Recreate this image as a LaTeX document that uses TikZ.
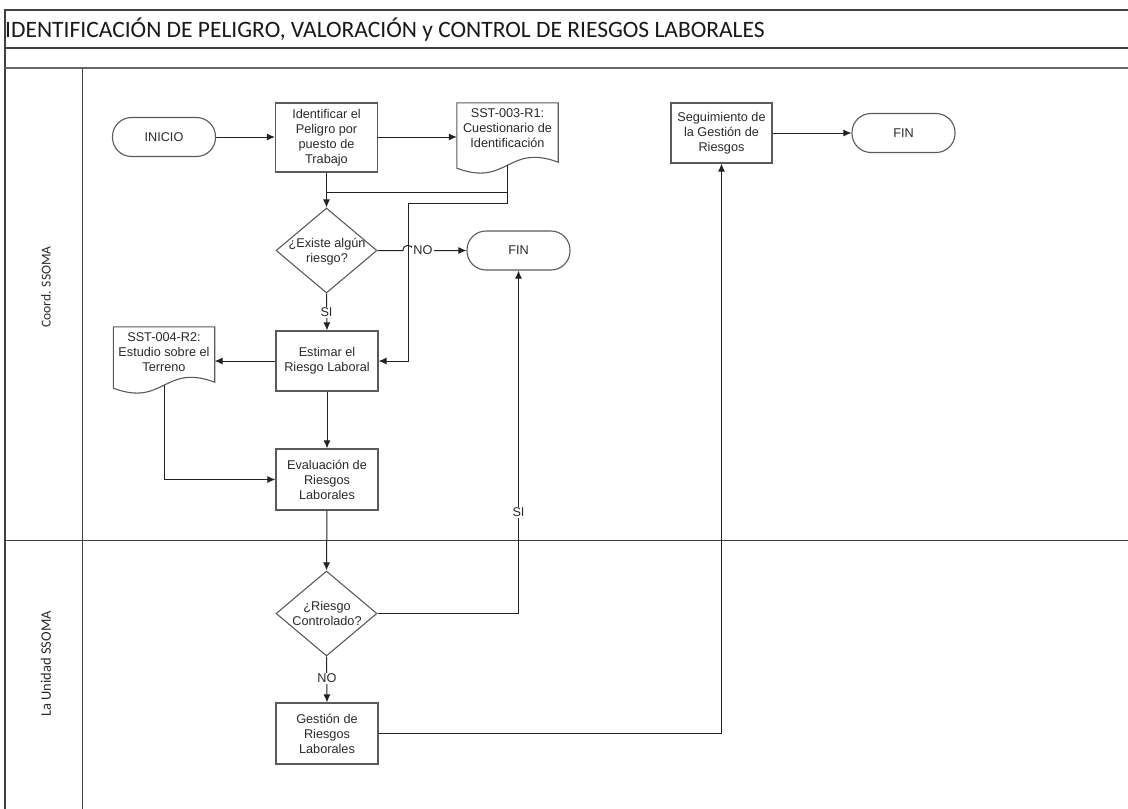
\documentclass[tikz,border=0pt]{standalone}
\usepackage{fontspec}
\setmainfont{Liberation Sans}
\newfontfamily\calibrifont{Carlito}
\usetikzlibrary{arrows.meta,shapes.geometric}

\definecolor{framecol}{HTML}{404040}
\definecolor{shapecol}{HTML}{5A5A5A}
\definecolor{linecol}{HTML}{222222}
\definecolor{textcol}{HTML}{2A2A2A}

\tikzset{
  frame/.style={draw=framecol, line width=1.4pt},
  box/.style={draw=shapecol, line width=1.2pt, rectangle, minimum width=102pt, inner sep=0pt},
  term/.style={draw=shapecol, line width=1.1pt, rectangle, rounded corners=19pt,
               minimum width=103pt, minimum height=39pt, inner sep=0pt},
  docbox/.style={rectangle, minimum width=101pt, inner sep=0pt},
  docline/.style={draw=shapecol, line width=1.1pt},
  decision/.style={draw=shapecol, line width=1.1pt, diamond, minimum width=101pt,
                   minimum height=85pt, inner sep=0pt},
  txt/.style={align=center, text=textcol, font=\fontsize{12.7}{15}\selectfont, inner sep=0pt},
  lbl/.style={text=textcol, font=\fontsize{12.7}{15}\selectfont, fill=white, inner sep=1pt},
  conn/.style={draw=linecol, line width=1pt},
  arr/.style={conn, -{Latex[length=8pt,width=7pt]}},
  lane/.style={text=textcol, rotate=90},
}

\begin{document}
\begin{tikzpicture}[x=1pt,y=-1pt]
  % canvas
  \fill[white] (0,0) rectangle (1128,809);
  \useasboundingbox (0,0) rectangle (1128,809);

  % pool frame and lanes
  \draw[frame] (5,809) -- (5,10) -- (1128,10);
  \draw[frame] (5,48) -- (1128,48);
  \draw[frame, draw=framecol!80] (5,68) -- (1128,68);
  \draw[frame, line width=1pt] (82,68) -- (82,809);
  \draw[frame, line width=1pt] (5,540) -- (1128,540);
  \node[anchor=west, text=black!90, font=\calibrifont\fontsize{23.5}{26}\selectfont, inner sep=0pt]
    (title) at (5,30) {IDENTIFICACIÓN DE PELIGRO, VALORACIÓN y CONTROL DE RIESGOS LABORALES};
  \node[lane, font=\calibrifont\fontsize{13.5}{15}\selectfont] (lane1) at (46,287) {Coord. SSOMA};
  \node[lane, font=\calibrifont\fontsize{14.5}{16}\selectfont] (lane2) at (46,664) {La Unidad SSOMA};

  % process shapes
  \node[term] (ini) at (164,137) {};
  \node[txt] at (ini) {INICIO};

  \node[box, minimum height=69pt] (id) at (326.5,137.5) {};
  \node[txt] at (id) {Identificar el\\Peligro por\\puesto de\\Trabajo};

  \node[docbox, minimum height=62pt] (d1) at (507.5,134) {};
  \draw[docline] (d1.north west) -- (d1.north east) -- ([yshift=3pt]d1.south east)
    .. controls ([yshift=22pt]d1.south) and ([yshift=-22pt]d1.south) .. ([yshift=-3pt]d1.south west) -- cycle;
  \node[txt] at (507.5,128) {SST-003-R1:\\Cuestionario de\\Identificación};

  \node[decision] (dia1) at (326.5,250.5) {};
  \node[txt] at (327,252) {¿Existe algún\\riesgo?};

  \node[term] (fin1) at (518.5,250.5) {};
  \node[txt] at (fin1) {FIN};

  \node[box, minimum height=60pt] (est) at (327,361) {};
  \node[txt] at (est) {Estimar el\\Riesgo Laboral};

  \node[docbox, minimum height=58pt] (d2) at (164,356) {};
  \draw[docline] (d2.north west) -- (d2.north east) -- ([yshift=3pt]d2.south east)
    .. controls ([yshift=22pt]d2.south) and ([yshift=-22pt]d2.south) .. ([yshift=-3pt]d2.south west) -- cycle;
  \node[txt] at (164,352) {SST-004-R2:\\Estudio sobre el\\Terreno};

  \node[box, minimum height=61pt] (ev) at (327,479.5) {};
  \node[txt] at (ev) {Evaluación de\\Riesgos\\Laborales};

  \node[decision] (dia2) at (326.5,613.5) {};
  \node[txt] at (327,613.5) {¿Riesgo\\Controlado?};

  \node[box, minimum height=61pt] (ges) at (327,733.5) {};
  \node[txt] at (ges) {Gestión de\\Riesgos\\Laborales};

  \node[box, minimum width=101pt, minimum height=60pt] (seg) at (721.5,133) {};
  \node[txt] at (seg) {Seguimiento de\\la Gestión de\\Riesgos};

  \node[term] (fin2) at (903.5,133) {};
  \node[txt] at (fin2) {FIN};

  % junction points of the connectors
  \coordinate (j1) at (507.5,192);
  \coordinate (j2) at (326.5,192);
  \coordinate (k1) at (507.5,203);
  \coordinate (k2) at (408,203);

  % connectors
  \draw[arr] (ini.east) -- (ini.east -| id.west);
  \draw[arr] (id.east |- ini.east) -- (ini.east -| d1.west);
  \draw[arr] (id.south) -- (dia1.north);
  \draw[conn] (d1.south) -- (j1) -- (j2);
  \draw[arr] (d1.south) -- (k1) -- (k2) -- (k2 |- est.east) -- (est.east);
  \draw[arr] (dia1.east) -- (403,250.5) .. controls (403,243.5) and (413,243.5) .. (413,250.5)
    -- (fin1.west);
  \node[lbl] (no1) at (423,250.5) {NO};
  \draw[arr] (dia1.south) -- (est.north);
  \node[lbl] (si1) at (326.5,312) {SI};
  \draw[arr] (est.west) -- (est.west -| d2.east);
  \draw[arr] (d2.south) -- (d2.south |- ev.west) -- (ev.west);
  \draw[arr] (est.south) -- (ev.north);
  \draw[arr] (ev.south) -- (dia2.north);
  \draw[arr] (dia2.east) -- (dia2.east -| fin1.south) -- (fin1.south);
  \node[lbl] (si2) at (518.5,512) {SI};
  \draw[arr] (dia2.south) -- (ges.north);
  \node[lbl] (no2) at (327,678) {NO};
  \draw[arr] (ges.east) -- (ges.east -| seg.south) -- (seg.south);
  \draw[arr] (seg.east) -- (fin2.west);
\end{tikzpicture}
\end{document}
